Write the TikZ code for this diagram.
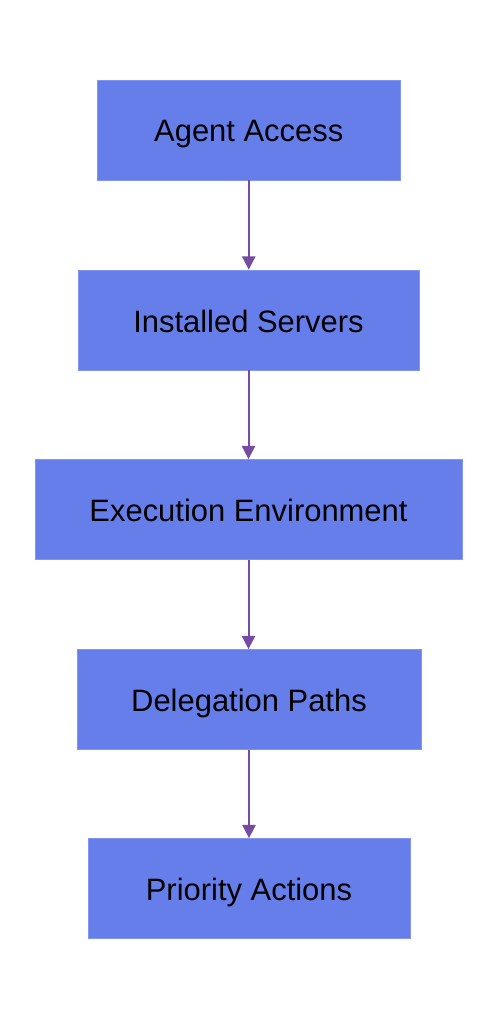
\documentclass[tikz,border=0pt]{standalone}
\usepackage{fontspec}
\setmainfont{Liberation Sans}
\usetikzlibrary{arrows.meta}
\definecolor{boxfill}{HTML}{667EEA}
\definecolor{boxline}{HTML}{8295F2}
\definecolor{arrowc}{HTML}{764BA2}
\begin{document}
\begin{tikzpicture}[x=0.75pt,y=-0.75pt,
  stepbox/.style={draw=boxline,line width=0.6pt,fill=boxfill,minimum height=75pt,inner sep=0pt,
    text height=18pt,text depth=0pt,
    font=\fontsize{23.2pt}{27pt}\selectfont,text=black},
  flow/.style={draw=arrowc,line width=1.5pt,-{Triangle[width=10pt,length=10pt]}}]
\useasboundingbox (0,0) rectangle (498,1020);
\node[stepbox,minimum width=226.9pt] (a) at (248.75,130) {Agent Access};
\node[stepbox,minimum width=255.75pt] (b) at (248.5,320) {Installed Servers};
\node[stepbox,minimum width=320.25pt] (c) at (248.5,509.5) {Execution Environment};
\node[stepbox,minimum width=258pt] (d) at (249,699.5) {Delegation Paths};
\node[stepbox,minimum width=241.5pt] (e) at (249,888.5) {Priority Actions};
\draw[flow] (a.south) -- (a.south |- b.north);
\draw[flow] (b.south) -- (b.south |- c.north);
\draw[flow] (c.south) -- (c.south |- d.north);
\draw[flow] (d.south) -- (d.south |- e.north);
\end{tikzpicture}
\end{document}
